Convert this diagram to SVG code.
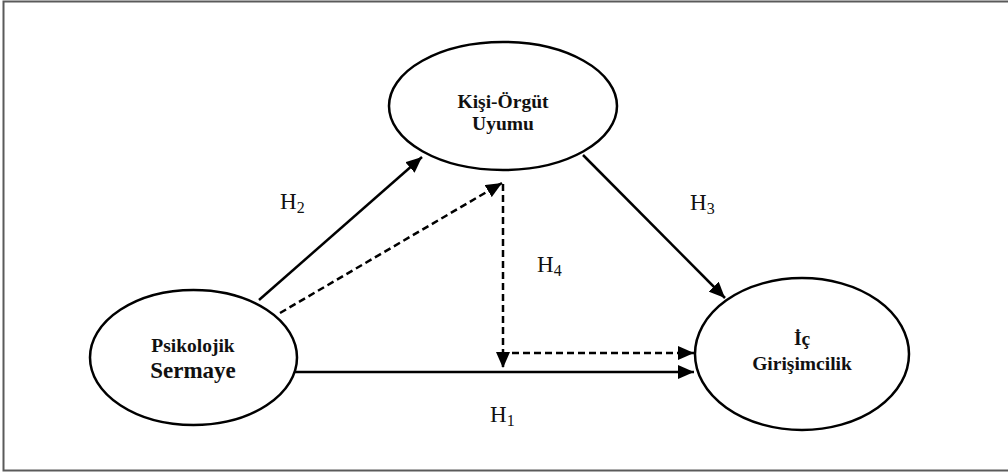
<svg xmlns="http://www.w3.org/2000/svg" width="1008" height="473" viewBox="0 0 1008 473">
<style>
.node{fill:#fff;stroke:#000;stroke-width:2.5}
.lbl{font-family:"Liberation Serif",serif;font-weight:bold;fill:#111;text-anchor:middle}
.h{font-family:"Liberation Serif",serif;font-size:23px;fill:#111}
.c{fill:none;stroke:#000;stroke-width:2.5}
.d{stroke-dasharray:7 4}
</style>
<defs>
<marker id="ah" markerUnits="userSpaceOnUse" markerWidth="16" markerHeight="14" refX="16" refY="7" orient="auto">
<path d="M0,0 L16,7 L0,14 Z" fill="#000"/>
</marker>
</defs>
<rect x="3.5" y="1.5" width="1010" height="469" fill="#fff" stroke="#5a5a5a" stroke-width="2"/>
<g id="connectors">
<line class="c" x1="259" y1="300" x2="422" y2="157" marker-end="url(#ah)"/>
<line class="c d" x1="280" y1="313" x2="502" y2="183" marker-end="url(#ah)"/>
<line class="c d" x1="503" y1="184" x2="503" y2="368" marker-end="url(#ah)"/>
<line class="c d" x1="512" y1="353" x2="694" y2="353" marker-end="url(#ah)"/>
<line class="c" x1="292" y1="372" x2="694" y2="372" marker-end="url(#ah)"/>
<line class="c" x1="583" y1="155" x2="725" y2="298" marker-end="url(#ah)"/>
</g>
<g id="node-kisi">
<ellipse class="node" cx="503" cy="106" rx="114" ry="64"/>
<text class="lbl" x="503" y="108" font-size="19.5">Kişi-Örgüt</text>
<text class="lbl" x="503" y="130" font-size="19.5">Uyumu</text>
</g>
<g id="node-psikolojik">
<ellipse class="node" cx="193.5" cy="357.5" rx="103.5" ry="67.5"/>
<text class="lbl" x="193" y="352" font-size="19.5">Psikolojik</text>
<text class="lbl" x="193" y="378" font-size="23">Sermaye</text>
</g>
<g id="node-ic">
<ellipse class="node" cx="802" cy="354" rx="107" ry="76"/>
<text class="lbl" x="802" y="345" font-size="19.5">İç</text>
<text class="lbl" x="802" y="370" font-size="19.5">Girişimcilik</text>
</g>
<g id="labels">
<text class="h" x="280" y="209">H<tspan font-size="16" dy="4">2</tspan></text>
<text class="h" x="690" y="210">H<tspan font-size="16" dy="4">3</tspan></text>
<text class="h" x="537" y="272">H<tspan font-size="16" dy="4">4</tspan></text>
<text class="h" x="490" y="422">H<tspan font-size="16" dy="4">1</tspan></text>
</g>
</svg>
